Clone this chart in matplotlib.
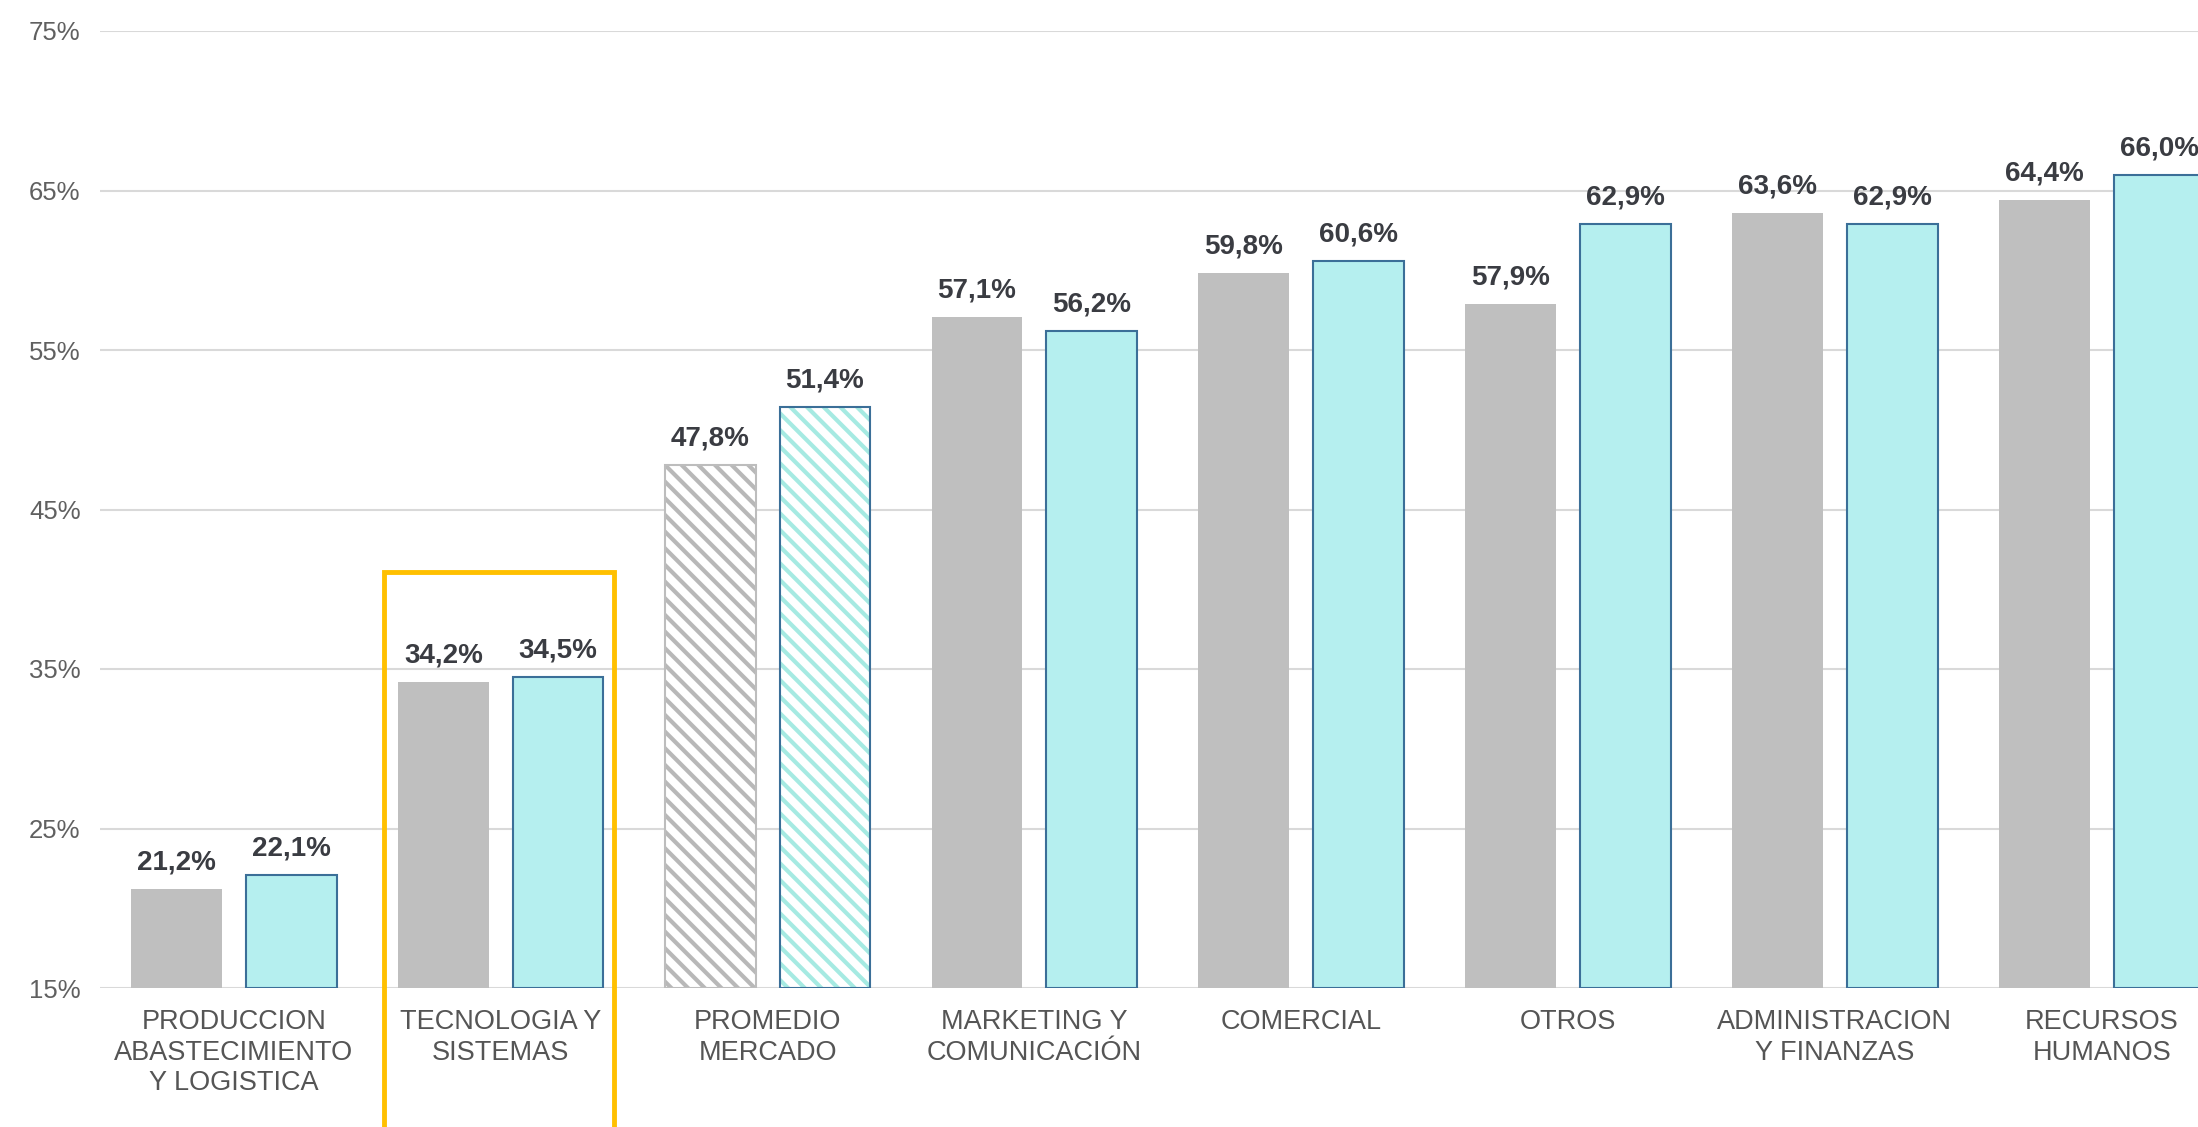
import matplotlib.pyplot as plt
from matplotlib.patches import Rectangle

plt.rcParams['font.family'] = ['Liberation Sans', 'DejaVu Sans']
plt.rcParams['hatch.linewidth'] = 3

categories = ['PRODUCCION\nABASTECIMIENTO\nY LOGISTICA', 'TECNOLOGIA Y\nSISTEMAS',
              'PROMEDIO\nMERCADO', 'MARKETING Y\nCOMUNICACIÓN', 'COMERCIAL',
              'OTROS', 'ADMINISTRACION\nY FINANZAS', 'RECURSOS\nHUMANOS']
serie_gris = [21.2, 34.2, 47.8, 57.1, 59.8, 57.9, 63.6, 64.4]
serie_cian = [22.1, 34.5, 51.4, 56.2, 60.6, 62.9, 62.9, 66.0]
promedio = 2      # indice de la barra rayada
destacado = 1     # grupo con el recuadro naranja
yticks = [15, 25, 35, 45, 55, 65, 75]

gris = '#BFBFBF'
cian = '#B5EFEF'
azul = '#3B6F98'
texto = '#3A3C42'

fig = plt.figure(figsize=(21.98, 11.27), dpi=100)
ax = fig.add_axes([100/2198, 139/1127, 2098/2198, 957/1127])

ancho = 0.34
off = 0.215
x = list(range(len(categories)))

for i in x:
    xg = i - off
    xc = i + off
    if i == promedio:
        ax.bar(xg, serie_gris[i] - 15, ancho, bottom=15, color='white', edgecolor='#B8B8B8',
               hatch='\\\\', linewidth=0, zorder=2)
        ax.bar(xg, serie_gris[i] - 15, ancho, bottom=15, color='none', edgecolor='#BDBDBD',
               linewidth=1.5, zorder=3)
        ax.bar(xc, serie_cian[i] - 15, ancho, bottom=15, color='white', edgecolor='#A6EAE2',
               hatch='\\\\', linewidth=0, zorder=2)
        ax.bar(xc, serie_cian[i] - 15, ancho, bottom=15, color='none', edgecolor=azul,
               linewidth=1.5, zorder=3)
    else:
        ax.bar(xg, serie_gris[i] - 15, ancho, bottom=15, color=gris, linewidth=0, zorder=2)
        ax.bar(xc, serie_cian[i] - 15, ancho, bottom=15, color=cian, edgecolor=azul,
               linewidth=1.5, zorder=2)
    for xx, v in [(xg, serie_gris[i]), (xc, serie_cian[i])]:
        ax.annotate(('%.1f%%' % v).replace('.', ','), (xx, v), xytext=(0, 14),
                    textcoords='offset points', ha='center', va='baseline',
                    fontsize=20, fontweight='bold', color=texto, annotation_clip=False)

ax.set_xlim(-0.502, 7.361)
ax.set_ylim(15, 75)
ax.set_yticks(yticks)
ax.set_yticklabels(['%d%%' % t for t in yticks])
ax.set_xticks(x)
ax.set_xticklabels(categories, linespacing=1.24)
ax.tick_params(axis='y', length=0, pad=14, labelsize=18.5, labelcolor='#606060')
ax.tick_params(axis='x', length=0, pad=15, labelsize=19.5, labelcolor='#555555')
ax.grid(axis='y', color='#D9D9D9', linewidth=1.5, zorder=0)
ax.set_axisbelow(True)
for s in ax.spines.values():
    s.set_visible(False)

# recuadro naranja
ax.add_patch(Rectangle((destacado - 0.438, -20), 0.862, 61.1, fill=False,
                       edgecolor='#FFC000', linewidth=3.5, clip_on=False, zorder=5))

plt.savefig('out.png', dpi=100)
